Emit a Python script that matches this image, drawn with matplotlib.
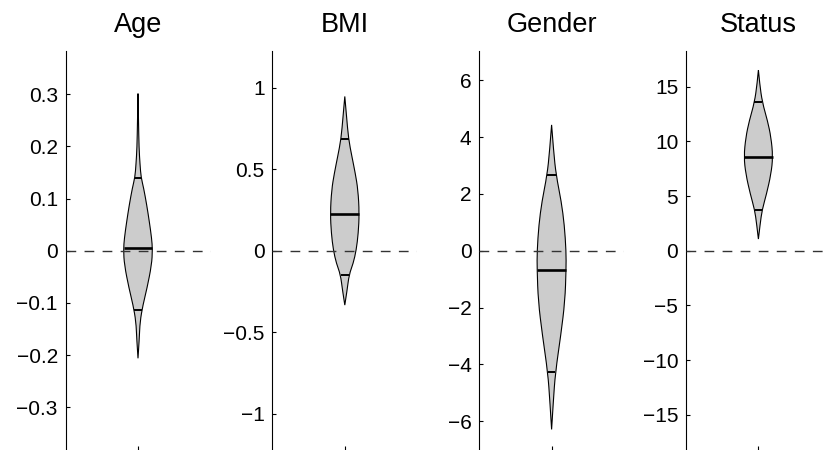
import numpy as np
import matplotlib
matplotlib.use("Agg")
import matplotlib.pyplot as plt
from matplotlib.path import Path
from matplotlib.patches import PathPatch

plt.rcParams['font.family'] = ['Liberation Sans', 'DejaVu Sans']

# 面板標題
titles = ['Age', 'BMI', 'Gender', 'Status']

# 每個小提琴的輪廓：y 值與相對半寬（1 = 最寬處）
age_y = [0.301, 0.248, 0.197, 0.165, 0.141, 0.120, 0.088, 0.056, 0.024, 0.002,
         -0.027, -0.072, -0.104, -0.136, -0.168, -0.206]
age_w = [0, 0.035, 0.07, 0.14, 0.21, 0.39, 0.60, 0.78, 0.94, 1.0,
         0.94, 0.62, 0.34, 0.14, 0.09, 0]
bmi_y = [0.948, 0.825, 0.686, 0.579, 0.477, 0.374, 0.230, 0.107, 0.004,
         -0.078, -0.146, -0.242, -0.334]
bmi_w = [0, 0.12, 0.26, 0.49, 0.72, 0.91, 1.0, 0.93, 0.79, 0.58, 0.30, 0.16, 0]
gender_y = [4.43, 3.49, 2.67, 1.73, 0.91, -0.02, -0.67, -1.78, -2.95, -4.30,
            -5.29, -6.29]
gender_w = [0, 0.14, 0.31, 0.67, 0.88, 1.0, 1.0, 0.92, 0.64, 0.26, 0.12, 0]
status_y = [16.53, 15.25, 13.58, 11.89, 10.38, 8.60, 7.02, 5.19, 3.75, 2.45, 1.07]
status_w = [0, 0.09, 0.27, 0.63, 0.87, 1.0, 0.87, 0.56, 0.26, 0.12, 0]

# 中位數與上下分位數
medians = [0.006, 0.228, -0.67, 8.60]
lower_q = [-0.114, -0.15, -4.28, 3.75]
upper_q = [0.14, 0.685, 2.68, 13.58]

# y 軸範圍（對稱）與刻度
ylims = [0.3825, 1.227, 7.03, 18.27]
yticks = [[-0.3, -0.2, -0.1, 0, 0.1, 0.2, 0.3],
          [-1, -0.5, 0, 0.5, 1],
          [-6, -4, -2, 0, 2, 4, 6],
          [-15, -10, -5, 0, 5, 10, 15]]

profiles = [(age_y, age_w), (bmi_y, bmi_w), (gender_y, gender_w), (status_y, status_w)]


def fmt(v):
    s = '%g' % round(v, 6)
    return s.replace('-', '\u2212')


def smooth_side(pts):
    # 以二次貝茲曲線連接輪廓點（點作為控制點）
    verts, codes = [], []
    n = len(pts)
    for i in range(1, n - 2):
        mid = (pts[i] + pts[i + 1]) / 2
        verts += [pts[i], mid]
        codes += [Path.CURVE3, Path.CURVE3]
    verts += [pts[n - 2], pts[n - 1]]
    codes += [Path.CURVE3, Path.CURVE3]
    return verts, codes


fig = plt.figure(figsize=(8.24, 4.5), dpi=100)
max_half = 0.2

for i, title in enumerate(titles):
    ax = fig.add_axes([(65.5 + 206.8 * i) / 824, -0.001, 145 / 824, 0.8876])
    y = np.array(profiles[i][0])
    w = np.array(profiles[i][1]) * max_half

    # 小提琴輪廓（右側由上而下，左側由下而上）
    right = np.column_stack([1 + w, y])
    left = np.column_stack([1 - w, y])[::-1]
    v1, c1 = smooth_side(right)
    v2, c2 = smooth_side(left)
    verts = [right[0]] + v1 + v2 + [right[0]]
    codes = [Path.MOVETO] + c1 + c2 + [Path.CLOSEPOLY]
    ax.add_patch(PathPatch(Path(verts, codes), facecolor='#cccccc',
                           edgecolor='black', lw=0.8, zorder=2))

    # 中位數與分位數橫線
    for val, lw in [(medians[i], 1.9), (lower_q[i], 1.4), (upper_q[i], 1.4)]:
        h = np.interp(val, y[::-1], w[::-1])
        ax.plot([1 - h, 1 + h], [val, val], color='black', lw=lw,
                solid_capstyle='butt', zorder=3)

    # 零線
    ax.axhline(0, color='#333333', lw=1.0, dashes=(7, 6), zorder=4)

    ax.set_xlim(0, 2)
    ax.set_ylim(-ylims[i], ylims[i])
    ax.set_yticks(yticks[i])
    ax.set_yticklabels([fmt(t) for t in yticks[i]])
    ax.set_xticks([1])
    ax.set_xticklabels([''])
    ax.tick_params(direction='in', length=3, width=0.8, labelsize=15, pad=5.5)
    for side in ['top', 'right', 'bottom']:
        ax.spines[side].set_visible(False)
    ax.spines['left'].set_linewidth(0.8)
    ax.patch.set_alpha(0)
    ax.set_title(title, fontsize=19.5, pad=13.5)

fig.savefig('out.png', dpi=100)
